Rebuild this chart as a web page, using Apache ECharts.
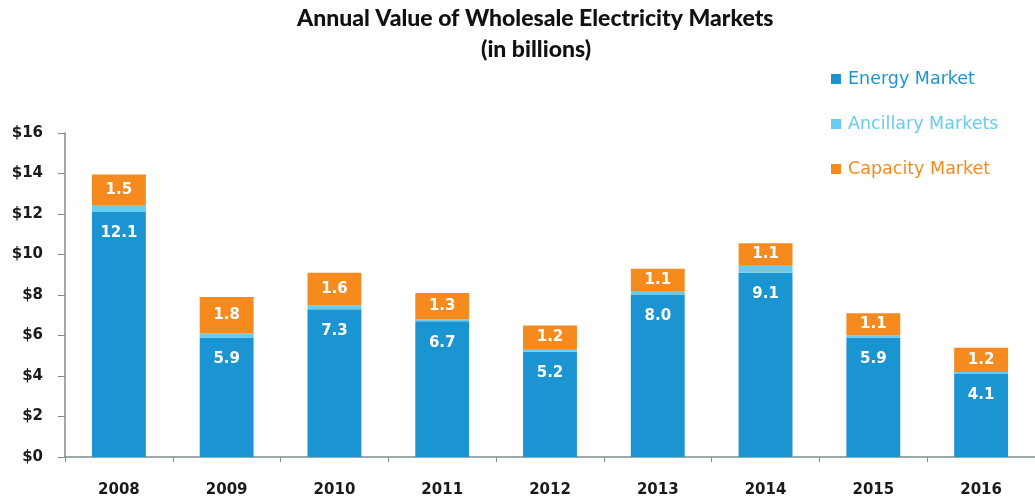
<!DOCTYPE html>
<html>
<head>
<meta charset="utf-8">
<script src="https://cdn.jsdelivr.net/npm/echarts@6/dist/echarts.min.js"></script>
<style>
  html, body { margin: 0; padding: 0; background: #fff; }
  #chart { width: 1035px; height: 498px; }
</style>
</head>
<body>
<div id="chart"></div>
<script>
const years = ['2008', '2009', '2010', '2011', '2012', '2013', '2014', '2015', '2016'];
const energy = [12.1, 5.9, 7.3, 6.7, 5.2, 8.0, 9.1, 5.9, 4.1];
const ancillary = [0.35, 0.2, 0.2, 0.1, 0.1, 0.2, 0.35, 0.1, 0.1];
const capacity = [1.5, 1.8, 1.6, 1.3, 1.2, 1.1, 1.1, 1.1, 1.2];

const FONT = 'Lato, "Open Sans", sans-serif';
const WIDE = '"DejaVu Sans", sans-serif';
const colors = { energy: '#1b95d2', ancillary: '#66ccf2', capacity: '#f58a1f' };

const chart = echarts.init(document.getElementById('chart'), null, { renderer: 'canvas' });

const titleStyle = { fontFamily: FONT, fontSize: 23, fontWeight: 900, color: '#111' };

chart.setOption({
  animation: false,
  textStyle: { fontFamily: FONT },
  title: [
    { text: 'Annual Value of Wholesale Electricity Markets', left: 292, top: 2, textStyle: titleStyle },
    { text: '(in billions)', left: 476, top: 33, textStyle: titleStyle }
  ],
  legend: {
    orient: 'vertical',
    left: 826, top: 65,
    itemWidth: 10, itemHeight: 10,
    itemGap: 27,
    icon: 'rect',
    textStyle: { fontFamily: WIDE, fontSize: 17.5, padding: [0, 0, 0, 2] },
    data: [
      { name: 'Energy Market', textStyle: { color: colors.energy } },
      { name: 'Ancillary Markets', textStyle: { color: colors.ancillary } },
      { name: 'Capacity Market', textStyle: { color: colors.capacity } }
    ]
  },
  grid: { left: 65, right: -10, top: 133, bottom: 40 },
  xAxis: {
    type: 'category',
    data: years,
    axisLine: { lineStyle: { color: '#7f8c8d', width: 1.5 } },
    axisTick: { show: true, length: 5, lineStyle: { color: '#7f8c8d' } },
    axisLabel: { margin: 26, fontSize: 15, fontWeight: 'bold', color: '#1a1a1a', fontFamily: WIDE }
  },
  yAxis: {
    type: 'value',
    min: 0, max: 16, interval: 2,
    splitLine: { show: false },
    axisLine: { show: true, lineStyle: { color: '#7f8c8d', width: 1.5 } },
    axisTick: { show: true, length: 7, lineStyle: { color: '#7f8c8d' } },
    axisLabel: {
      margin: 22, fontSize: 15, fontWeight: 'bold', color: '#1a1a1a', fontFamily: WIDE,
      formatter: v => '$' + v
    }
  },
  series: [
    {
      name: 'Energy Market', type: 'bar', stack: 'total',
      barWidth: '50%',
      itemStyle: { color: colors.energy },
      label: {
        show: true, position: 'insideTop', distance: 14,
        color: '#fff', fontSize: 15, fontWeight: 'bold', fontFamily: WIDE,
        formatter: p => p.value.toFixed(1)
      },
      data: energy
    },
    {
      name: 'Ancillary Markets', type: 'bar', stack: 'total',
      itemStyle: { color: colors.ancillary },
      data: ancillary
    },
    {
      name: 'Capacity Market', type: 'bar', stack: 'total',
      itemStyle: { color: colors.capacity },
      label: {
        show: true, position: 'inside',
        color: '#fff', fontSize: 15, fontWeight: 'bold', fontFamily: WIDE,
        formatter: p => p.value.toFixed(1)
      },
      data: capacity
    }
  ]
});
</script>
</body>
</html>
